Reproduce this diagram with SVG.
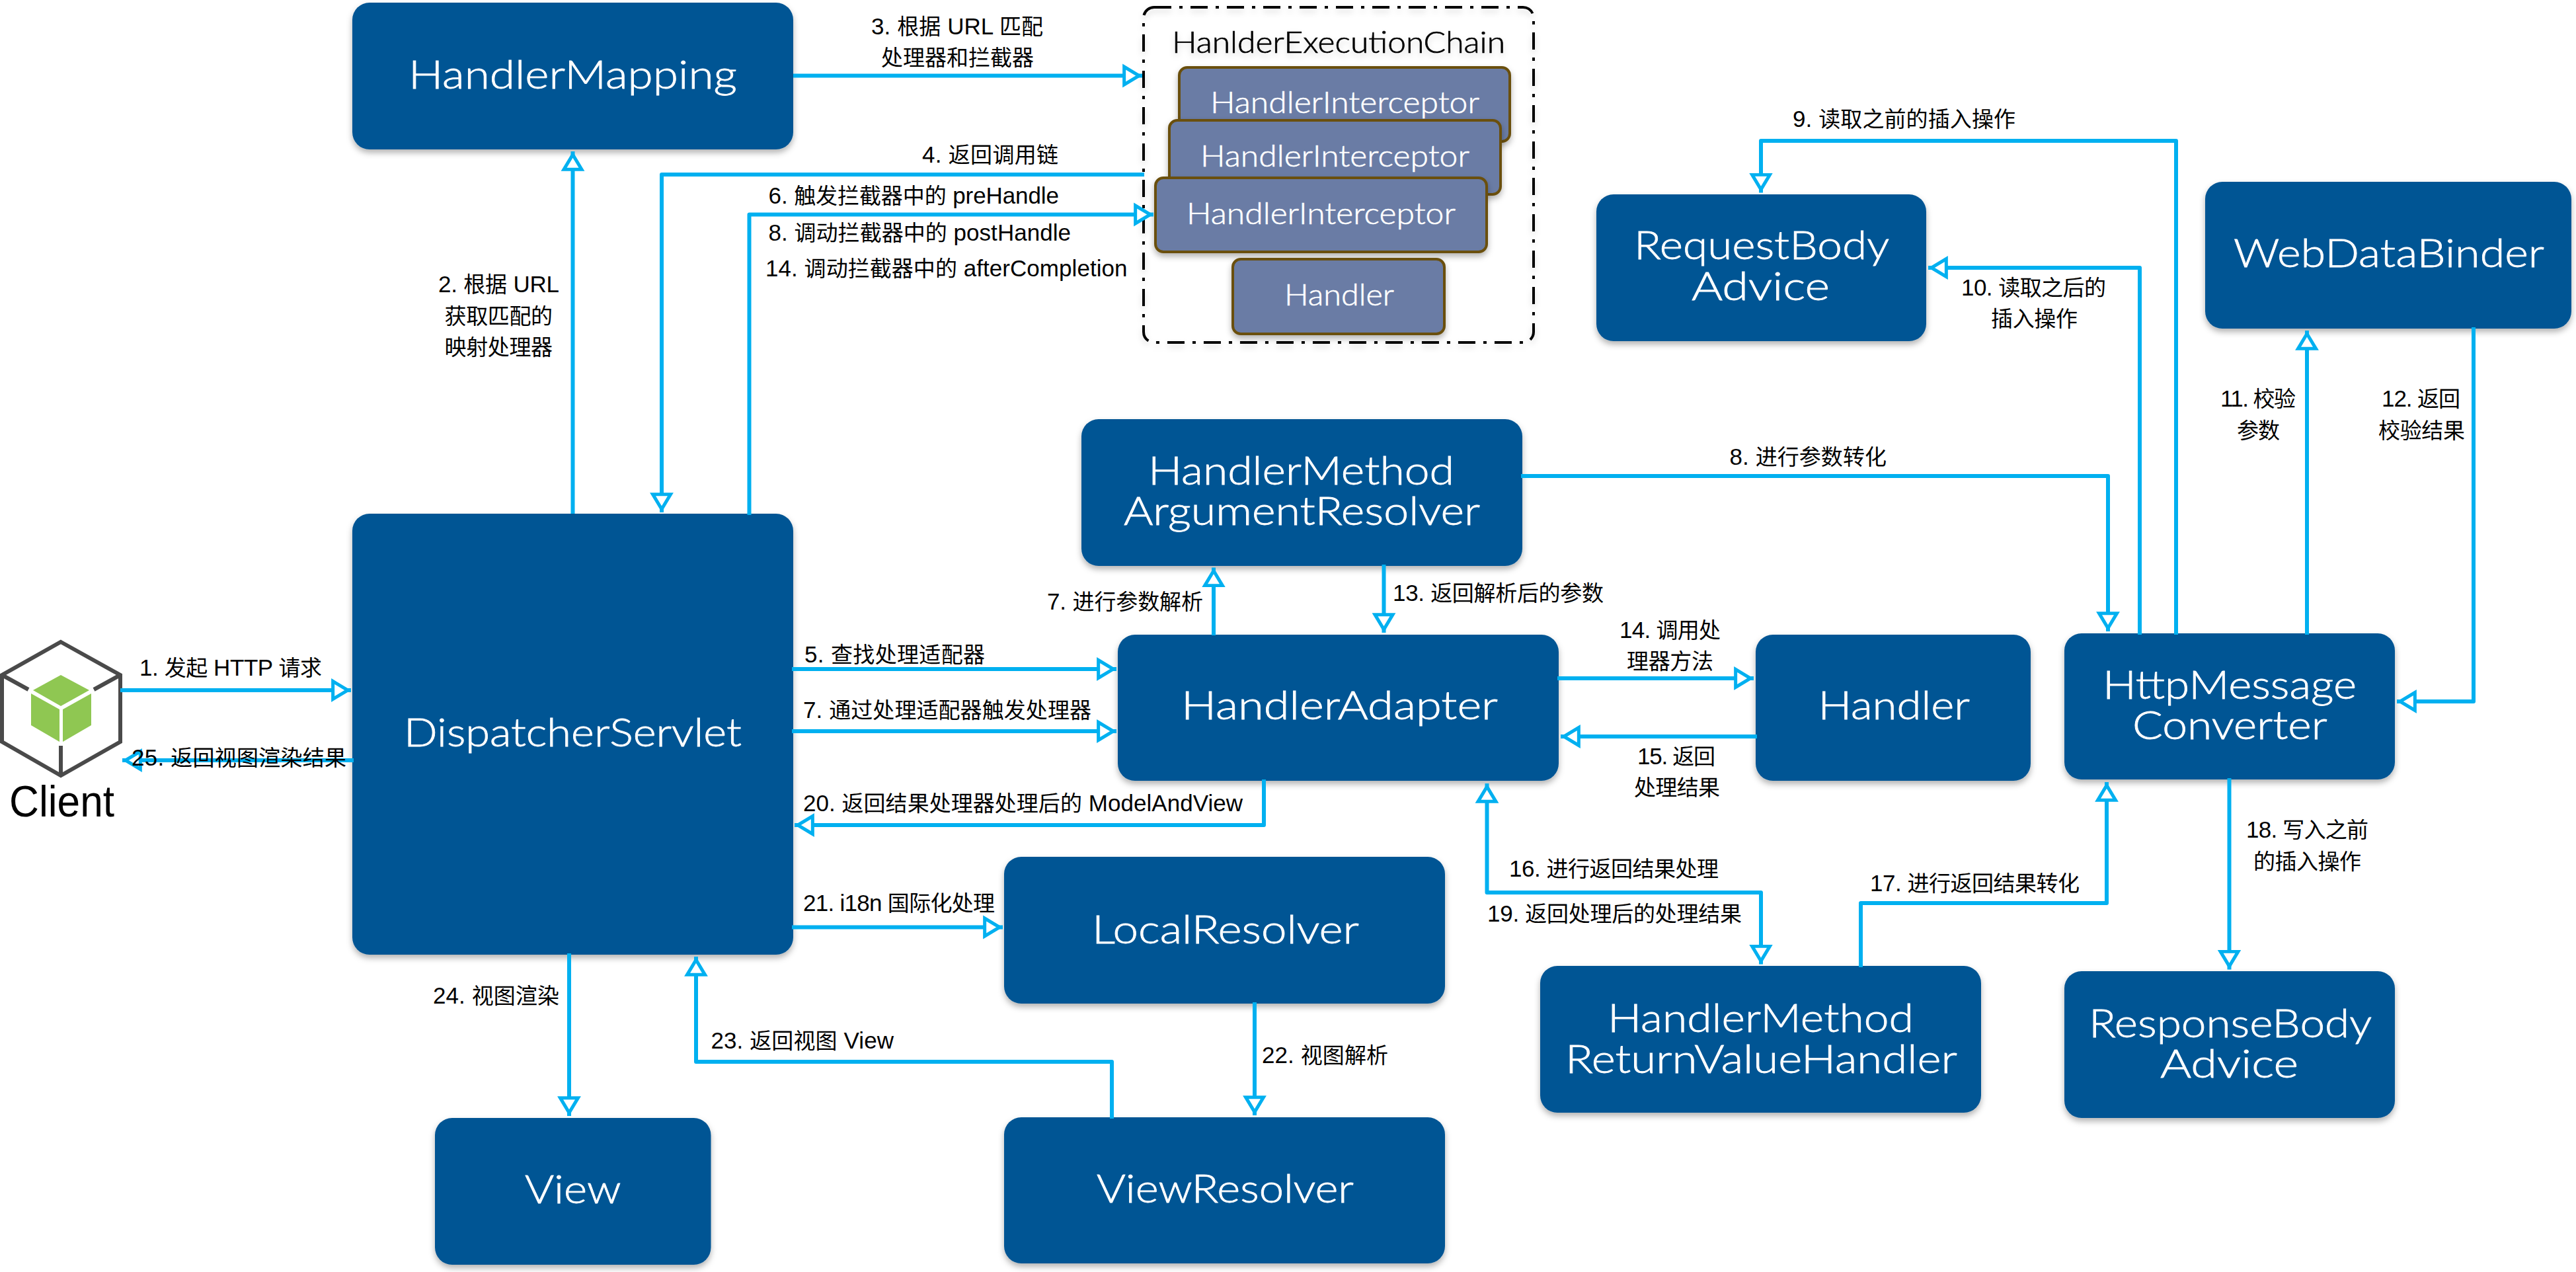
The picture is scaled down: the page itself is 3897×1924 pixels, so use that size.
<svg xmlns="http://www.w3.org/2000/svg" width="3897" height="1924" viewBox="0 0 3897 1924">
<style>
.b{fill:#025594;filter:url(#sh)}
.i{fill:#6b7ca5;stroke:#6b5010;stroke-width:4;filter:url(#sh)}
.n{font-family:"Lato","Liberation Sans",sans-serif;font-weight:300;font-size:60px;fill:#fff;stroke:#fff;stroke-width:.8px}
.m{font-family:"Lato","Liberation Sans",sans-serif;font-weight:300;font-size:45px;fill:#fff;stroke:#fff;stroke-width:.6px}
.l{font-family:"Liberation Sans","Noto Sans CJK SC",sans-serif;font-size:35px;fill:#000}
.h{font-size:33px}
.c{fill:none;stroke:#00b0f0;stroke-width:6;stroke-linejoin:round}
.a{marker-end:url(#ah)}
</style>
<defs>
<filter id="sh" x="-10%" y="-10%" width="120%" height="125%"><feDropShadow dx="0" dy="5" stdDeviation="5" flood-color="#000" flood-opacity="0.3"/></filter>
<filter id="st" x="-5%" y="-30%" width="110%" height="170%"><feDropShadow dx="0" dy="5" stdDeviation="5" flood-color="#000" flood-opacity="0.15"/></filter>
<marker id="ah" markerUnits="userSpaceOnUse" viewBox="0 0 34 40" markerWidth="34" markerHeight="40" refX="29.85" refY="20" orient="auto"><path d="M2.5 6.5L25 20L2.5 33.5Z" fill="#fff" stroke="#00b0f0" stroke-width="5"/></marker>
<marker id="as" markerUnits="userSpaceOnUse" viewBox="0 0 34 40" markerWidth="34" markerHeight="40" refX="29.85" refY="20" orient="auto-start-reverse"><path d="M2.5 6.5L25 20L2.5 33.5Z" fill="#fff" stroke="#00b0f0" stroke-width="5"/></marker>
</defs>
<rect width="3897" height="1924" fill="#fff"/>

<g id="node-client">
<path d="M92 971L182 1021V1122L92 1173L3 1122V1021Z" fill="#fff" stroke="#4a4a4a" stroke-width="6" stroke-linejoin="miter"/>
<path d="M3 1021L43 1043M182 1021L142 1043M92 1173V1128" fill="none" stroke="#4a4a4a" stroke-width="6"/>
<path d="M92 1021L135 1044L92 1068L50 1044Z M47 1049L90 1073V1122L47 1097Z M95 1073L138 1049V1097L95 1122Z" fill="#8fc752"/>
<text x="14" y="1235" font-family="Liberation Sans, sans-serif" font-size="66" textLength="159" lengthAdjust="spacingAndGlyphs">Client</text>
</g>
<g id="node-handlermapping"><rect class="b" x="533" y="4" width="667" height="222" rx="26"/><text class="n" x="618" y="133.5" textLength="497" lengthAdjust="spacingAndGlyphs">HandlerMapping</text></g>
<g id="node-dispatcherservlet"><rect class="b" x="533" y="777" width="667" height="667" rx="26"/><text class="n" x="611" y="1129" textLength="511" lengthAdjust="spacingAndGlyphs">DispatcherServlet</text></g>
<g id="node-chain">
<rect x="1730" y="11" width="590" height="507" rx="16" fill="none" stroke="#000" stroke-width="4" stroke-dasharray="26 12 5 12" filter="url(#st)"/>
<text x="1773" y="79.5" font-family="Lato, sans-serif" font-weight="300" font-size="45" fill="#000" stroke="#000" stroke-width=".7" textLength="504" lengthAdjust="spacingAndGlyphs" filter="url(#st)">HanlderExecutionChain</text>
</g>
<g id="node-interceptor-1"><rect class="i" x="1784" y="102" width="500" height="112" rx="12"/><text class="m" x="1831" y="171" textLength="407" lengthAdjust="spacingAndGlyphs">HandlerInterceptor</text></g>
<g id="node-interceptor-2"><rect class="i" x="1769" y="182" width="501" height="112" rx="12"/><text class="m" x="1816" y="252" textLength="407" lengthAdjust="spacingAndGlyphs">HandlerInterceptor</text></g>
<g id="node-interceptor-3"><rect class="i" x="1748" y="269" width="501" height="112" rx="12"/><text class="m" x="1795" y="339" textLength="407" lengthAdjust="spacingAndGlyphs">HandlerInterceptor</text></g>
<g id="node-chain-handler"><rect class="i" x="1865" y="392" width="320" height="113" rx="12"/><text class="m" x="1943" y="461.5" textLength="166" lengthAdjust="spacingAndGlyphs">Handler</text></g>
<g id="node-requestbodyadvice"><rect class="b" x="2415" y="294" width="499" height="222" rx="26"/><text class="n" x="2472" y="392" textLength="386" lengthAdjust="spacingAndGlyphs">RequestBody</text><text class="n" x="2559" y="454" textLength="209" lengthAdjust="spacingAndGlyphs">Advice</text></g>
<g id="node-webdatabinder"><rect class="b" x="3336" y="275" width="554" height="222" rx="26"/><text class="n" x="3379" y="404" textLength="470" lengthAdjust="spacingAndGlyphs">WebDataBinder</text></g>
<g id="node-argumentresolver"><rect class="b" x="1636" y="634" width="667" height="222" rx="26"/><text class="n" x="1737" y="733" textLength="463" lengthAdjust="spacingAndGlyphs">HandlerMethod</text><text class="n" x="1700" y="794" textLength="539" lengthAdjust="spacingAndGlyphs">ArgumentResolver</text></g>
<g id="node-handleradapter"><rect class="b" x="1691" y="960" width="667" height="221" rx="26"/><text class="n" x="1787" y="1088" textLength="479" lengthAdjust="spacingAndGlyphs">HandlerAdapter</text></g>
<g id="node-handler"><rect class="b" x="2656" y="960" width="416" height="221" rx="26"/><text class="n" x="2750.5" y="1088" textLength="229.5" lengthAdjust="spacingAndGlyphs">Handler</text></g>
<g id="node-httpmessageconverter"><rect class="b" x="3123" y="958" width="500" height="221" rx="26"/><text class="n" x="3181" y="1056.5" textLength="384" lengthAdjust="spacingAndGlyphs">HttpMessage</text><text class="n" x="3226" y="1118" textLength="294.6" lengthAdjust="spacingAndGlyphs">Converter</text></g>
<g id="node-responsebodyadvice"><rect class="b" x="3123" y="1469" width="500" height="222" rx="26"/><text class="n" x="3160" y="1568.5" textLength="428" lengthAdjust="spacingAndGlyphs">ResponseBody</text><text class="n" x="3268" y="1630" textLength="209" lengthAdjust="spacingAndGlyphs">Advice</text></g>
<g id="node-returnvaluehandler"><rect class="b" x="2330" y="1461" width="667" height="222" rx="26"/><text class="n" x="2432" y="1561" textLength="463" lengthAdjust="spacingAndGlyphs">HandlerMethod</text><text class="n" x="2368" y="1622.6" textLength="593" lengthAdjust="spacingAndGlyphs">ReturnValueHandler</text></g>
<g id="node-localresolver"><rect class="b" x="1519" y="1296" width="667" height="222" rx="26"/><text class="n" x="1652" y="1427" textLength="404" lengthAdjust="spacingAndGlyphs">LocalResolver</text></g>
<g id="node-viewresolver"><rect class="b" x="1519" y="1690" width="667" height="221" rx="26"/><text class="n" x="1659" y="1819" textLength="389" lengthAdjust="spacingAndGlyphs">ViewResolver</text></g>
<g id="node-view"><rect class="b" x="658" y="1691" width="417.500" height="222" rx="26"/><text class="n" x="794" y="1820" textLength="145.500" lengthAdjust="spacingAndGlyphs">View</text></g>

<g id="connectors">
<path class="c a" d="M182 1044H531"/>
<path class="c a" d="M535 1150H185"/>
<path class="c a" d="M866.500 777V229"/>
<path class="c a" d="M1200 114.500H1728"/>
<path class="c a" d="M1731 264H1001V775"/>
<path class="c a" d="M1133.500 779V324.500H1745"/>
<path class="c a" d="M1198 1012H1689"/>
<path class="c a" d="M1198 1106H1689"/>
<path class="c a" d="M1836 961V858.500"/>
<path class="c a" d="M2093.500 854V957"/>
<path class="c a" d="M2301 720H3189V955"/>
<path class="c a" d="M3292 960V213H2664V291.500"/>
<path class="c a" d="M3237 960V405H2917"/>
<path class="c a" d="M3490 960V500"/>
<path class="c a" d="M3742 495V1061H3626"/>
<path class="c a" d="M2356 1026H2653"/>
<path class="c a" d="M2658 1114H2361"/>
<path class="c a" style="marker-start:url(#as)" d="M2249.500 1185V1350H2664V1458.500"/>
<path class="c a" d="M2815 1463V1366H3187V1183"/>
<path class="c a" d="M3372.500 1177V1466.500"/>
<path class="c a" d="M1912 1179V1248H1202"/>
<path class="c a" d="M1198 1402.500H1517"/>
<path class="c a" d="M1898 1516V1687"/>
<path class="c a" d="M1682 1692V1606H1053V1447"/>
<path class="c a" d="M861 1442V1688"/>
</g>

<g id="labels">
<text class="l" x="211" y="1021.500" textLength="276">1. <tspan class="h">发起</tspan> HTTP <tspan class="h">请求</tspan></text>
<text class="l" x="199" y="1158" textLength="325">25. <tspan class="h">返回视图渲染结果</tspan></text>
<text class="l" x="663" y="442" textLength="183">2. <tspan class="h">根据</tspan> URL</text>
<text class="l h" x="672.500" y="490" textLength="163.500">获取匹配的</text>
<text class="l h" x="672.500" y="537" textLength="163.500">映射处理器</text>
<text class="l" x="1318" y="51.500" textLength="260">3. <tspan class="h">根据</tspan> URL <tspan class="h">匹配</tspan></text>
<text class="l h" x="1333" y="99" textLength="231">处理器和拦截器</text>
<text class="l" x="1395" y="246" textLength="206">4. <tspan class="h">返回调用链</tspan></text>
<text class="l" x="1162.500" y="308" textLength="439.500">6. <tspan class="h">触发拦截器中的</tspan> preHandle</text>
<text class="l" x="1162.500" y="364" textLength="457.500">8. <tspan class="h">调动拦截器中的</tspan> postHandle</text>
<text class="l" x="1158" y="418" textLength="547.500">14. <tspan class="h">调动拦截器中的</tspan> afterCompletion</text>
<text class="l" x="1217" y="1002" textLength="273">5. <tspan class="h">查找处理适配器</tspan></text>
<text class="l" x="1215" y="1086" textLength="436">7. <tspan class="h">通过处理适配器触发处理器</tspan></text>
<text class="l" x="1215" y="1227" textLength="665">20. <tspan class="h">返回结果处理器处理后的</tspan> ModelAndView</text>
<text class="l" x="1215" y="1378" textLength="290">21. i18n <tspan class="h">国际化处理</tspan></text>
<text class="l" x="1584" y="922" textLength="236">7. <tspan class="h">进行参数解析</tspan></text>
<text class="l" x="2107" y="909" textLength="319">13. <tspan class="h">返回解析后的参数</tspan></text>
<text class="l" x="2616.500" y="703" textLength="237.500">8. <tspan class="h">进行参数转化</tspan></text>
<text class="l" x="2712" y="192" textLength="337">9. <tspan class="h">读取之前的插入操作</tspan></text>
<text class="l" x="2967" y="447" textLength="219">10. <tspan class="h">读取之后的</tspan></text>
<text class="l h" x="3012" y="494" textLength="131">插入操作</text>
<text class="l" x="3359" y="615" textLength="114">11. <tspan class="h">校验</tspan></text>
<text class="l h" x="3384" y="662.600" textLength="65">参数</text>
<text class="l" x="3603" y="615" textLength="119">12. <tspan class="h">返回</tspan></text>
<text class="l h" x="3598" y="662.600" textLength="131">校验结果</text>
<text class="l" x="2450" y="965" textLength="153">14. <tspan class="h">调用处</tspan></text>
<text class="l h" x="2461" y="1012" textLength="131">理器方法</text>
<text class="l" x="2477" y="1155.500" textLength="118">15. <tspan class="h">返回</tspan></text>
<text class="l h" x="2472" y="1203" textLength="130">处理结果</text>
<text class="l" x="2283" y="1326" textLength="317">16. <tspan class="h">进行返回结果处理</tspan></text>
<text class="l" x="2250" y="1394" textLength="385">19. <tspan class="h">返回处理后的处理结果</tspan></text>
<text class="l" x="2829" y="1348" textLength="317">17. <tspan class="h">进行返回结果转化</tspan></text>
<text class="l" x="3398" y="1267" textLength="185">18. <tspan class="h">写入之前</tspan></text>
<text class="l h" x="3409" y="1315" textLength="163">的插入操作</text>
<text class="l" x="655" y="1518" textLength="191">24. <tspan class="h">视图渲染</tspan></text>
<text class="l" x="1075.500" y="1586" textLength="276.500">23. <tspan class="h">返回视图</tspan> View</text>
<text class="l" x="1909" y="1608" textLength="191">22. <tspan class="h">视图解析</tspan></text>
</g>
</svg>
